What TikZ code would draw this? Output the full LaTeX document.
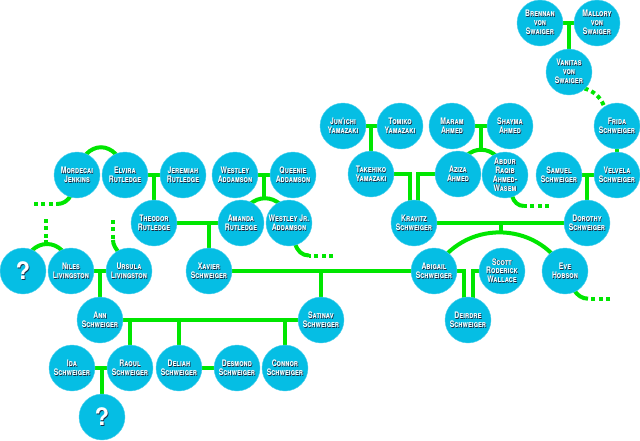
\documentclass[tikz,border=0pt]{standalone}
\usepackage{fontspec}
\setmainfont{TeX Gyre Heros}
\usetikzlibrary{backgrounds,calc}
\definecolor{wire}{RGB}{0,230,0}
\definecolor{disc}{RGB}{5,190,228}
\definecolor{shade}{RGB}{25,45,70}
\newfontfamily\namefont{TeX Gyre Heros}[Letters=SmallCaps,FakeStretch=0.76]
\newfontfamily\askfont{TeX Gyre Heros}
\newcommand\pl[1]{\leavevmode\makebox[0pt][c]{\rlap{\kern.7pt\raisebox{-.7pt}{\textcolor{shade}{#1}}}#1}}
\newcommand\person[4]{\node[personnode] (#1) at (#2,#3) {#4};}
\newcommand\askp[3]{\node[asknode] (#1) at (#2,#3) {\pl{?}};}
\tikzset{
  personnode/.style={circle,fill=disc,draw=disc!70!white,line width=.4pt,minimum size=46pt,inner sep=0pt,align=center,text=white,
    font=\namefont\bfseries\fontsize{9}{8.9}\selectfont},
  asknode/.style={circle,fill=disc,draw=disc!70!white,line width=.4pt,minimum size=46pt,inner sep=0pt,text=white,
    font=\askfont\bfseries\fontsize{24}{24}\selectfont},
  link/.style={draw=wire,line width=4pt},
  dots/.style={draw=wire,line width=4pt,dash pattern=on 4pt off 3.4pt},
}
\begin{document}
\begin{tikzpicture}[x=1pt,y=-1pt]
\useasboundingbox (0,0) rectangle (640,440);
\person{mordecai}{77}{175}{\pl{Mordecai}\\\pl{Jenkins}}
\person{elvira}{125}{175}{\pl{Elvira}\\\pl{Rutledge}}
\person{jeremiah}{183}{175}{\pl{Jeremiah}\\\pl{Rutledge}}
\person{westley}{235}{175}{\pl{Westley}\\\pl{Addamson}}
\person{queenie}{293}{175}{\pl{Queenie}\\\pl{Addamson}}
\person{theodor}{154}{223}{\pl{Theodor}\\\pl{Rutledge}}
\person{amanda}{241}{223}{\pl{Amanda}\\\pl{Rutledge}}
\person{westleyjr}{289}{223}{\pl{Westley Jr.}\\\pl{Addamson}}
\person{xavier}{209}{271}{\pl{Xavier}\\\pl{Schweiger}}
\askp{askone}{23}{271}
\person{niles}{71}{271}{\pl{Niles}\\\pl{Livingston}}
\person{ursula}{129}{271}{\pl{Ursula}\\\pl{Livingston}}
\person{ann}{100}{320}{\pl{Ann}\\\pl{Schweiger}}
\person{satinav}{321}{320}{\pl{Satinav}\\\pl{Schweiger}}
\person{ida}{72}{368}{\pl{Ida}\\\pl{Schweiger}}
\person{raoul}{130}{368}{\pl{Raoul}\\\pl{Schweiger}}
\person{deliah}{179}{368}{\pl{Deliah}\\\pl{Schweiger}}
\person{desmond}{237}{368}{\pl{Desmond}\\\pl{Schweiger}}
\person{connor}{285}{368}{\pl{Connor}\\\pl{Schweiger}}
\askp{asktwo}{102}{417}
\person{junichi}{343}{126}{\pl{Jun'ichi}\\\pl{Yamazaki}}
\person{tomiko}{400}{126}{\pl{Tomiko}\\\pl{Yamazaki}}
\person{maram}{452}{126}{\pl{Maram}\\\pl{Ahmed}}
\person{shayma}{510}{126}{\pl{Shayma}\\\pl{Ahmed}}
\person{takehiko}{371}{174}{\pl{Takehiko}\\\pl{Yamazaki}}
\person{aziza}{458}{174}{\pl{Aziza}\\\pl{Ahmed}}
\person{abdur}{505}{175}{\pl{Abdur}\\\pl{Raqib}\\\pl{Ahmed-}\\\pl{Wasem}}
\person{samuel}{559}{175}{\pl{Samuel}\\\pl{Schweiger}}
\person{velvela}{617}{175}{\pl{Velvela}\\\pl{Schweiger}}
\person{frida}{617}{126}{\pl{Frida}\\\pl{Schweiger}}
\person{kravitz}{414}{223}{\pl{Kravitz}\\\pl{Schweiger}}
\person{dorothy}{587}{223}{\pl{Dorothy}\\\pl{Schweiger}}
\person{abigail}{434}{271}{\pl{Abigail}\\\pl{Schweiger}}
\person{scott}{502}{271}{\pl{Scott}\\\pl{Roderick}\\\pl{Wallace}}
\person{eve}{565}{271}{\pl{Eve}\\\pl{Hobson}}
\person{deirdre}{468}{320}{\pl{Deirdre}\\\pl{Schweiger}}
\person{brennan}{540}{23}{\pl{Brennan}\\\pl{von}\\\pl{Swaiger}}
\person{mallory}{597}{23}{\pl{Mallory}\\\pl{von}\\\pl{Swaiger}}
\person{vanitas}{569}{72}{\pl{Vanitas}\\\pl{von}\\\pl{Swaiger}}
% free ends
\coordinate (mordecaibend) at (57,204);
\coordinate (mordecaiend) at (34,204);
\coordinate (ursulabend) at (113,240);
\coordinate (ursulaend) at (113,220);
\coordinate (askpeak) at (46,240);
\coordinate (askend) at (46,219);
\coordinate (wjrbend) at (309,255.5);
\coordinate (wjrend) at (333,255.5);
\coordinate (abdurbend) at (524,206);
\coordinate (abdurend) at (549,206);
\coordinate (evebend) at (588,298.7);
\coordinate (eveend) at (610,298.7);
\coordinate (vanstart) at (584.5,88.5);
\coordinate (fridaend) at (604,106);
\begin{pgfonlayer}{background}
% couples and children, left
\draw[link] (elvira.center) -- (jeremiah.center);
\draw[link] ($(elvira.center)!.5!(jeremiah.center)$) -- (theodor.center);
\draw[link] (mordecai.center) .. controls +(6,-37) and +(-6,-37) .. (elvira.center);
\draw[link] (westley.center) -- (queenie.center);
\coordinate (wqmid) at ($(westley.center)!.5!(queenie.center)$);
\draw[link] (wqmid) -- ++(0,23);
\draw[link] (amanda.center) .. controls +(4,-33) and +(-4,-33) .. (westleyjr.center);
\draw[link] (theodor.center) -- (amanda.center);
\draw[link] (xavier.center) -- (xavier.center |- amanda.center);
\draw[link] (askone.center) .. controls +(4,-36) and +(-4,-36) .. (niles.center);
\draw[link] (askpeak) -- (46,243);
\draw[dots] (askend) -- (askpeak);
\draw[link] (niles.center) -- (ursula.center);
\draw[link] (ann.center) -- (ann.center |- niles.center);
\draw[link] (ursula.center) -- (120,254) .. controls (116,249) and (113,245) .. (ursulabend);
\draw[dots] (ursulaend) -- (ursulabend);
\draw[link] (mordecai.center) -- (71,195) .. controls (68,201) and (63,204) .. (mordecaibend);
\draw[dots] (mordecaiend) -- (mordecaibend);
\draw[link] (westleyjr.center) -- (295,243) .. controls (297,251) and (302,255.5) .. (wjrbend);
\draw[dots] (wjrend) -- (wjrbend);
% main generation
\draw[link] (xavier.center) -- (abigail.center);
\draw[link] (satinav.center) -- (satinav.center |- xavier.center);
\draw[link] (ann.center) -- (satinav.center);
\draw[link] (raoul.center) -- (raoul.center |- ann.center);
\draw[link] (deliah.center) -- (deliah.center |- ann.center);
\draw[link] (connor.center) -- (connor.center |- ann.center);
\draw[link] (deliah.center) -- (desmond.center);
\draw[link] (ida.center) -- (raoul.center);
\draw[link] (asktwo.center) -- (asktwo.center |- ida.center);
% right
\draw[link] (junichi.center) -- (tomiko.center);
\draw[link] (takehiko.center) -- (takehiko.center |- junichi.center);
\draw[link] (takehiko.center) -- (410,174) -- (410,223);
\draw[link] (aziza.center) -- (418,174) -- (418,223);
\draw[link] (maram.center) -- (shayma.center);
\coordinate (msmid) at ($(maram.center)!.5!(shayma.center)$);
\draw[link] (msmid) -- ++(0,24);
\draw[link] (aziza.center) .. controls +(4,-33) and +(-4,-33) .. (abdur.center);
\draw[link] (abdur.center) -- (512,196) .. controls (514,202) and (518,206) .. (abdurbend);
\draw[dots] (abdurend) -- (abdurbend);
\draw[link] (samuel.center) -- (velvela.center);
\draw[link] (dorothy.center) -- (dorothy.center |- samuel.center);
\draw[link] (frida.center) -- (velvela.center);
\draw[dots] (vanstart) .. controls (593,91) and (600,96) .. (fridaend);
\draw[link] (kravitz.center) -- (dorothy.center);
\coordinate (kdmid) at (500.7,223);
\draw[link] (kdmid) -- ++(0,9);
\draw[link] (abigail.center) .. controls +(28.6,-51.5) and +(-28.6,-51.5) .. (eve.center);
\draw[link] (abigail.center) -- (464,271) -- (464,320);
\draw[link] (scott.center) -- (472.7,271) -- (472.7,320);
\draw[link] (eve.center) -- (574,290) .. controls (577,295) and (582,298.7) .. (evebend);
\draw[dots] (eveend) -- (evebend);
\draw[link] (brennan.center) -- (mallory.center);
\draw[link] (vanitas.center) -- (vanitas.center |- brennan.center);
\end{pgfonlayer}
\end{tikzpicture}
\end{document}
